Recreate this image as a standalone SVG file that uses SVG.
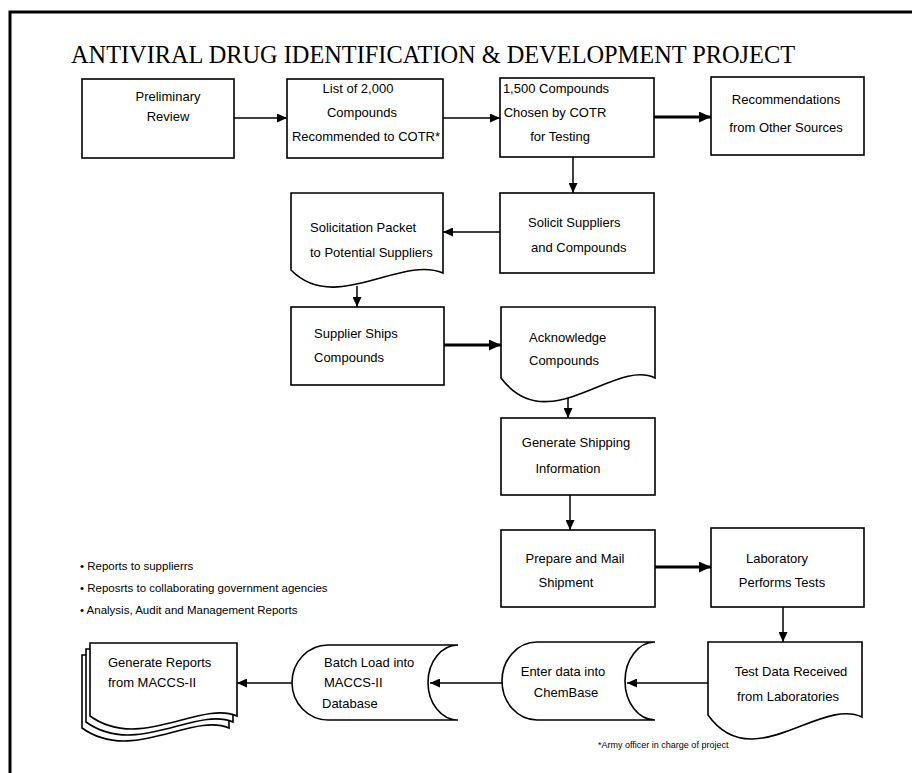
<svg xmlns="http://www.w3.org/2000/svg" width="912" height="773" viewBox="0 0 912 773">
<style>
.bg{fill:#fff}
.frame{fill:none;stroke:#000;stroke-width:3}
.box{fill:#fff;stroke:#000;stroke-width:1.6}
.t{font-family:"Liberation Sans",Arial,sans-serif;font-size:13px;fill:#000}
.b{font-family:"Liberation Sans",Arial,sans-serif;font-size:11.5px;fill:#000}
.fn{font-family:"Liberation Sans",Arial,sans-serif;font-size:9px;fill:#000}
.title{font-family:"Liberation Serif","Times New Roman",serif;font-size:25px;fill:#000}
.c{stroke:#000;stroke-width:1.5;fill:none}
.ck{stroke:#000;stroke-width:3;fill:none}
</style>
<defs>
<marker id="ah" markerUnits="userSpaceOnUse" markerWidth="10" markerHeight="9" refX="10" refY="4.5" orient="auto"><path d="M0,0 L10,4.5 L0,9 z" fill="#000"/></marker>
<marker id="ahk" markerUnits="userSpaceOnUse" markerWidth="12" markerHeight="11" refX="12" refY="5.5" orient="auto"><path d="M0,0 L12,5.5 L0,11 z" fill="#000"/></marker>
</defs>
<rect class="bg" x="0" y="0" width="912" height="773"/>
<path class="frame" d="M10,773 V12 H912"/>
<text class="title" x="71" y="63" textLength="724" lengthAdjust="spacingAndGlyphs">ANTIVIRAL DRUG IDENTIFICATION &amp; DEVELOPMENT PROJECT</text>

<g id="connectors">
<line class="c" x1="234" y1="118" x2="287" y2="118" marker-end="url(#ah)"/>
<line class="c" x1="443" y1="118" x2="500" y2="118" marker-end="url(#ah)"/>
<line class="ck" x1="654" y1="117" x2="711" y2="117" marker-end="url(#ahk)"/>
<line class="c" x1="573" y1="157" x2="573" y2="193" marker-end="url(#ah)"/>
<line class="c" x1="500" y1="232" x2="443" y2="232" marker-end="url(#ah)"/>
<line class="c" x1="357" y1="286" x2="357" y2="307" marker-end="url(#ah)"/>
<line class="ck" x1="444" y1="345" x2="501" y2="345" marker-end="url(#ahk)"/>
<line class="c" x1="568" y1="398" x2="568" y2="418" marker-end="url(#ah)"/>
<line class="c" x1="570" y1="495" x2="570" y2="530" marker-end="url(#ah)"/>
<line class="ck" x1="655" y1="567" x2="711" y2="567" marker-end="url(#ahk)"/>
<line class="c" x1="783" y1="607" x2="783" y2="642" marker-end="url(#ah)"/>
<line class="c" x1="708" y1="683" x2="627" y2="683" marker-end="url(#ah)"/>
<line class="c" x1="502" y1="683" x2="430" y2="683" marker-end="url(#ah)"/>
<line class="c" x1="292" y1="683" x2="237" y2="683" marker-end="url(#ah)"/>
</g>

<g id="preliminary-review">
<rect class="box" x="82" y="79" width="152" height="79"/>
<text class="t" x="168" y="101" text-anchor="middle">Preliminary</text>
<text class="t" x="168" y="121" text-anchor="middle">Review</text>
</g>
<g id="list-2000">
<rect class="box" x="287" y="79" width="156" height="79"/>
<text class="t" x="358" y="93" text-anchor="middle">List of 2,000</text>
<text class="t" x="362" y="117" text-anchor="middle">Compounds</text>
<text class="t" x="366" y="141" text-anchor="middle">Recommended to COTR*</text>
</g>
<g id="chosen-1500">
<rect class="box" x="500" y="78" width="154" height="79"/>
<text class="t" x="556" y="93" text-anchor="middle">1,500 Compounds</text>
<text class="t" x="555" y="117" text-anchor="middle">Chosen by COTR</text>
<text class="t" x="560" y="141" text-anchor="middle">for Testing</text>
</g>
<g id="recommendations">
<rect class="box" x="711" y="77" width="153" height="78"/>
<text class="t" x="786" y="104" text-anchor="middle">Recommendations</text>
<text class="t" x="786" y="132" text-anchor="middle">from Other Sources</text>
</g>
<g id="solicit-suppliers">
<rect class="box" x="500" y="193" width="154" height="80"/>
<text class="t" x="528" y="227">Solicit Suppliers</text>
<text class="t" x="531" y="252">and  Compounds</text>
</g>
<g id="solicitation-packet">
<path class="box" d="M291,193 H443 V273 C400,255 335,315 291,270 Z"/>
<text class="t" x="310" y="232">Solicitation Packet</text>
<text class="t" x="310" y="257">to Potential Suppliers</text>
</g>
<g id="supplier-ships">
<rect class="box" x="291" y="307" width="153" height="78"/>
<text class="t" x="314" y="338">Supplier Ships</text>
<text class="t" x="314" y="362">Compounds</text>
</g>
<g id="acknowledge">
<path class="box" d="M501,307 H655 V378 C615,358 548,440 501,378 Z"/>
<text class="t" x="529" y="342">Acknowledge</text>
<text class="t" x="529" y="365">Compounds</text>
</g>
<g id="generate-shipping">
<rect class="box" x="501" y="418" width="154" height="77"/>
<text class="t" x="576" y="447" text-anchor="middle">Generate Shipping</text>
<text class="t" x="568" y="473" text-anchor="middle">Information</text>
</g>
<g id="prepare-mail">
<rect class="box" x="501" y="530" width="154" height="77"/>
<text class="t" x="575" y="563" text-anchor="middle">Prepare and Mail</text>
<text class="t" x="566" y="587" text-anchor="middle">Shipment</text>
</g>
<g id="laboratory">
<rect class="box" x="711" y="528" width="153" height="79"/>
<text class="t" x="777" y="563" text-anchor="middle">Laboratory</text>
<text class="t" x="782" y="587" text-anchor="middle">Performs Tests</text>
</g>
<g id="test-data">
<path class="box" d="M708,642 H862 V717 C820,697 752,777 708,715 Z"/>
<text class="t" x="791" y="676" text-anchor="middle">Test Data Received</text>
<text class="t" x="788" y="701" text-anchor="middle">from Laboratories</text>
</g>
<g id="enter-chembase">
<path class="box" d="M537,642 H655 A30,39 0 0 0 655,720 H537 A35,39 0 0 1 537,642 Z"/>
<text class="t" x="563" y="676" text-anchor="middle">Enter data into</text>
<text class="t" x="566" y="697" text-anchor="middle">ChemBase</text>
</g>
<g id="batch-load">
<path class="box" d="M328,645 H458 A30,37.5 0 0 0 458,720 H328 A36,37.5 0 0 1 328,645 Z"/>
<text class="t" x="324" y="667">Batch Load into</text>
<text class="t" x="324" y="687">MACCS-II</text>
<text class="t" x="322" y="708">Database</text>
</g>
<g id="generate-reports">
<path class="box" d="M82,655 H229 V728 C192,712 132,764 82,728 Z"/>
<path class="box" d="M86,649 H233 V722 C196,706 136,758 86,722 Z"/>
<path class="box" d="M90,643 H237 V716 C200,700 140,752 90,716 Z"/>
<text class="t" x="108" y="667">Generate Reports</text>
<text class="t" x="108" y="687">from MACCS-II</text>
</g>
<g id="notes">
<text class="b" x="80" y="570">• Reports to supplierrs</text>
<text class="b" x="80" y="592">• Reposrts to collaborating government agencies</text>
<text class="b" x="80" y="614">• Analysis, Audit and Management Reports</text>
<text class="fn" x="598" y="748">*Army officer in charge of project</text>
</g>
</svg>
